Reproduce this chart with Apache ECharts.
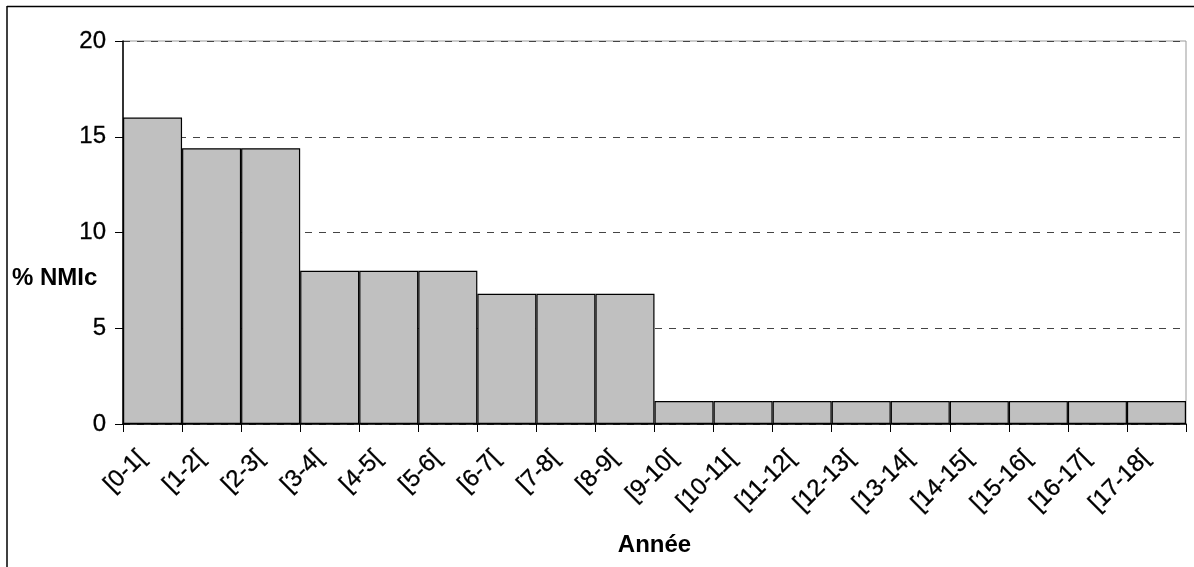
<!DOCTYPE html>
<html>
<head>
<meta charset="utf-8">
<script src="https://cdn.jsdelivr.net/npm/echarts@6/dist/echarts.min.js"></script>
<style>
html,body{margin:0;padding:0;background:#fff;}
#chart{width:1194px;height:567px;}
</style>
</head>
<body>
<div id="chart"></div>
<script>
const categories = ['[0-1[','[1-2[','[2-3[','[3-4[','[4-5[','[5-6[','[6-7[','[7-8[','[8-9[','[9-10[','[10-11[','[11-12[','[12-13[','[13-14[','[14-15[','[15-16[','[16-17[','[17-18['];
const values = [16, 14.4, 14.4, 8, 8, 8, 6.8, 6.8, 6.8, 1.2, 1.2, 1.2, 1.2, 1.2, 1.2, 1.2, 1.2, 1.2];
const yTicks = { min: 0, max: 20, interval: 5 };
const xTitle = 'Année';
const yTitle = '% NMIc';

const chart = echarts.init(document.getElementById('chart'), null, { renderer: 'canvas' });
const font = 'Liberation Sans, Arial, sans-serif';
chart.setOption({
  animation: false,
  backgroundColor: '#ffffff',
  grid: { left: 123, right: 8, top: 41, bottom: 143, show: true, borderColor: '#999999', borderWidth: 1, backgroundColor: 'transparent' },
  xAxis: {
    type: 'category',
    data: categories,
    boundaryGap: true,
    name: xTitle,
    nameLocation: 'middle',
    nameGap: 109,
    nameTextStyle: { fontFamily: font, fontSize: 24, fontWeight: 'bold', color: '#000' },
    axisLine: { lineStyle: { color: '#000', width: 1.5 } },
    axisTick: { show: true, length: 8, lineStyle: { color: '#000' }, alignWithLabel: false },
    axisLabel: { rotate: 45, margin: 20, interval: 0, padding: [0, 15, 0, 0], fontFamily: font, fontSize: 24, color: '#000', textBorderColor: '#000', textBorderWidth: 0.3 },
    splitLine: { show: false }
  },
  yAxis: {
    type: 'value',
    min: yTicks.min, max: yTicks.max, interval: yTicks.interval,
    axisLine: { show: true, lineStyle: { color: '#000', width: 1.5 } },
    axisTick: { show: true, length: 8, lineStyle: { color: '#000' } },
    axisLabel: { margin: 17, fontFamily: font, fontSize: 24, color: '#000', textBorderColor: '#000', textBorderWidth: 0.3 },
    splitLine: { show: true, lineStyle: { color: '#444', type: [7, 7], width: 1 } }
  },
  series: [{
    type: 'bar',
    data: values,
    barCategoryGap: '0%',
    itemStyle: { color: '#c0c0c0', borderColor: '#000', borderWidth: 1.2 }
  }],
  graphic: [
    { type: 'text', left: 12, top: 266, style: { text: yTitle, font: 'bold 24px ' + font, fill: '#000' } },
    { type: 'line', shape: { x1: 7, y1: 6.5, x2: 1194, y2: 6.5 }, style: { stroke: '#000', lineWidth: 1.5 } },
    { type: 'line', shape: { x1: 7, y1: 6, x2: 7, y2: 567 }, style: { stroke: '#000', lineWidth: 1.5 } }
  ]
});
</script>
</body>
</html>
